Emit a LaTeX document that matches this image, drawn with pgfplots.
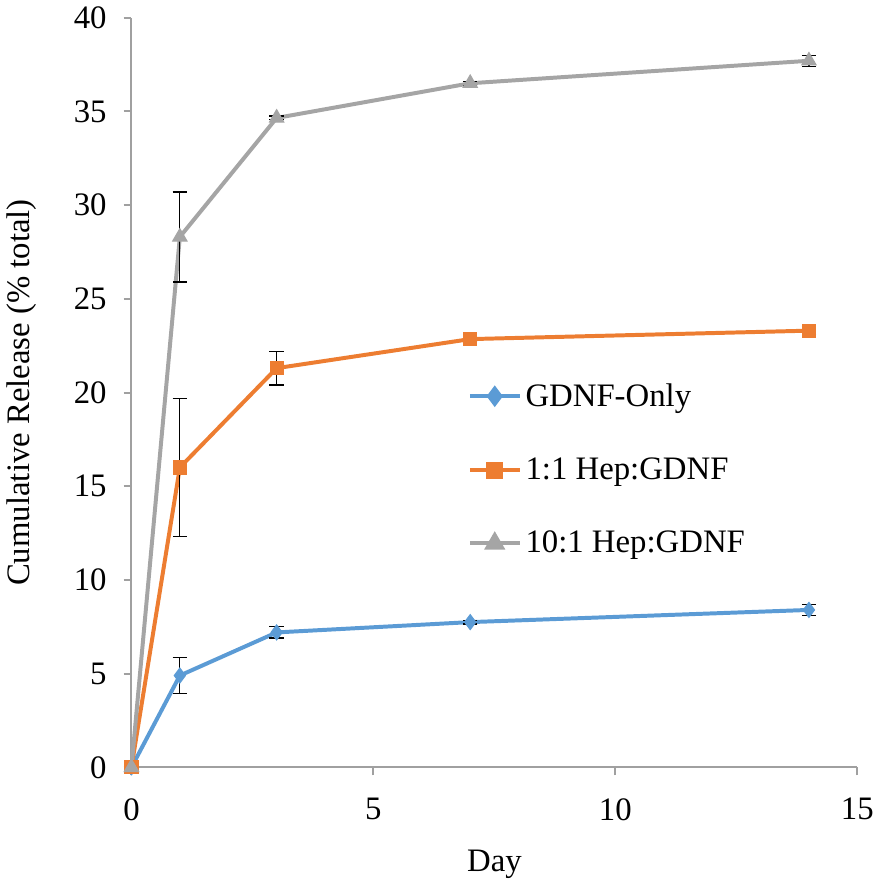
\documentclass[border=0pt]{standalone}
\usepackage{pgfplots}
\pgfplotsset{compat=1.18}
\usepackage{fontspec}
\setmainfont{Liberation Serif}
\newfontfamily\tnr{Liberation Serif}
\definecolor{cblue}{RGB}{91,155,213}
\definecolor{corange}{RGB}{237,125,49}
\definecolor{cgray}{RGB}{165,165,165}
\definecolor{caxis}{RGB}{160,160,160}
\newcommand{\lblfont}{\tnr\fontsize{16.5}{19}\selectfont}
\begin{document}
\begin{tikzpicture}
\begin{axis}[
  scale only axis,
  width=365.5pt, height=377.5pt,
  xmin=0, xmax=15, ymin=0, ymax=40,
  xtick={0,5,10,15}, ytick={0,5,...,40},
  axis x line=bottom, axis y line=left,
  axis line style={-, caxis, line width=1pt},
  tick style={caxis, line width=1pt},
  major tick length=4pt,
  tick align=outside,
  /pgf/number format/assume math mode=true,
  ticklabel style={font=\lblfont},
  xticklabel style={yshift=-8pt},
  yticklabel style={xshift=-5pt},
  label style={font=\lblfont},
  xlabel={Day},
  xlabel style={yshift=-8pt},
  ylabel={Cumulative Release (\% total)},
  ylabel style={yshift=12pt},
  clip=false,
  legend style={at={(rel axis cs:0.463,0.518)}, anchor=north west,
    draw=none, fill=none, font=\lblfont, row sep=20.5pt,
    inner sep=0pt},
  legend cell align=left,
  legend image code/.code={
    \draw[#1, mark=none] (0pt,0pt) -- (25pt,0pt);
    \path (12.5pt,0pt) plot[#1, mark options={solid}] coordinates {(12.5pt,0pt)};
  },
  every axis plot/.append style={line width=2pt},
  error bars/y dir=both, error bars/y explicit,
  error bars/error bar style={black, line width=0.6pt},
  error bars/error mark options={rotate=90, mark size=3.6pt, black, line width=0.6pt},
]
\addplot[cblue, mark=diamond*, mark size=3.8pt, mark options={fill=cblue, draw=cblue, line width=0.5pt}]
  table[y error=e] {
  x  y     e
  0  0     0
  1  4.9   0.95
  3  7.2   0.3
  7  7.75  0.1
  14 8.4   0.3
};
\addlegendentry{GDNF-Only}
\addplot[corange, mark=square*, mark size=3.3pt, mark options={fill=corange, draw=corange, line width=0.5pt}]
  table[y error=e] {
  x  y     e
  0  0     0
  1  16.0  3.7
  3  21.3  0.9
  7  22.85 0.1
  14 23.3  0.2
};
\addlegendentry{1:1 Hep:GDNF}
\addplot[cgray, mark=triangle*, mark size=4.2pt, mark options={fill=cgray, draw=cgray, line width=0.5pt}]
  table[y error=e] {
  x  y     e
  0  0     0
  1  28.3  2.4
  3  34.65 0.1
  7  36.5  0.1
  14 37.7  0.3
};
\addlegendentry{10:1 Hep:GDNF}
\end{axis}
\end{tikzpicture}
\end{document}
